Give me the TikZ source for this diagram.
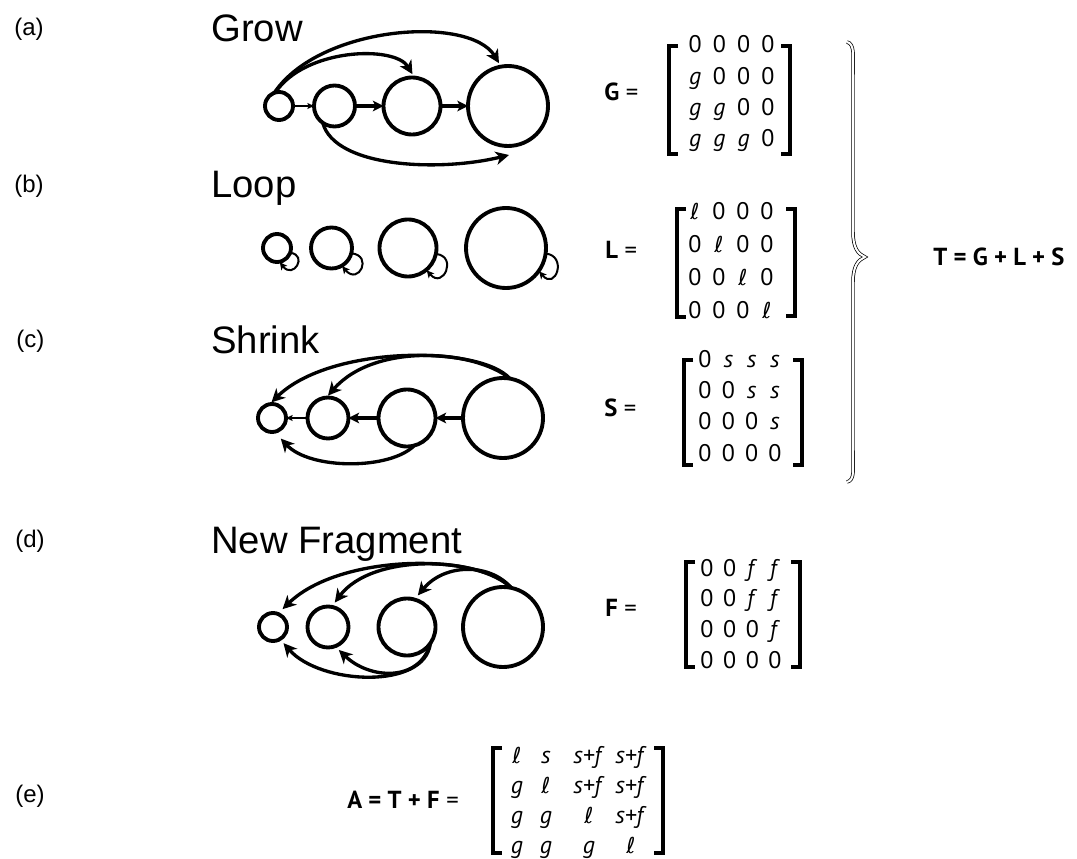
\documentclass[tikz,border=0pt]{standalone}
\usepackage{fontspec}
\setmainfont{Liberation Sans}
\newfontfamily\mtxfont{PT Sans}
\newfontfamily\ellfont{DejaVu Sans}
\usetikzlibrary{arrows.meta,calc,matrix}
\newcommand\Eg{\textit{g}}
\newcommand\Es{\textit{s}}
\newcommand\Ef{\textit{f}}
\newcommand\El{{\ellfont\itshape\fontsize{16.5}{18}\selectfont ℓ}}
\newcommand\Esf{\textit{s+f}}
\begin{document}
\begin{tikzpicture}[x=0.75pt,y=-0.75pt,
  ring/.style={circle,draw,line width=2.9pt,inner sep=0pt,outer sep=0pt},
  rA/.style={ring,minimum size=21pt},
  rB/.style={ring,minimum size=30.75pt},
  rC/.style={ring,minimum size=42.75pt},
  rD/.style={ring,minimum size=60pt},
  link/.style={line width=2.4pt,-{Stealth[length=8pt,width=8pt,inset=2pt]}},
  thinlink/.style={line width=0.8pt,-{Stealth[length=5pt,width=4.5pt,inset=1pt]}},
  arc/.style={line width=2.5pt,-{Stealth[length=10pt,width=10pt,inset=3pt]}},
  selfloop/.style={line width=1.5pt,-{Stealth[length=5.5pt,width=5.5pt,inset=1.4pt]},shorten >=0.5pt},
  tag/.style={font=\fontsize{18}{21}\selectfont,anchor=west,inner sep=0pt},
  title/.style={font=\fontsize{28.7}{33}\selectfont,anchor=base west,inner sep=0pt},
  mlabel/.style={font=\mtxfont\fontsize{18.5}{21}\selectfont,anchor=west,inner sep=0pt},
  mtx/.style={matrix of nodes,inner sep=0pt,column sep=0pt,row sep=0pt,
    nodes={font=\mtxfont\fontsize{18}{21}\selectfont,inner sep=0pt,
      text height=13pt,text depth=4pt,anchor=center}},
  bracket/.style={line width=2.8pt},
  brace/.style={double,double distance=1.5pt,line width=0.55pt},
  ]
\useasboundingbox (0,0) rectangle (1077,859);

% ---------- row labels ----------
\node[tag] (ta) at (14,29) {(a)};
\node[tag] (tb) at (14,186) {(b)};
\node[tag] (tc) at (16,341) {(c)};
\node[tag] (td) at (15,541) {(d)};
\node[tag] (te) at (15,796) {(e)};

% ---------- titles ----------
\node[title] (hGrow) at (211,42) {Grow};
\node[title] (hLoop) at (211,198) {Loop};
\node[title] (hShrink) at (211,353) {Shrink};
\node[title] (hFrag) at (211,553) {New Fragment};

% ---------- (a) grow ----------
\node[rA] (a1) at (279,106) {};
\node[rB] (a2) at (334.5,106) {};
\node[rC] (a3) at (412,106) {};
\node[rD] (a4) at (508,106) {};
\coordinate (a4foot) at (509,155);
\draw[thinlink] (a1) -- (a2);
\draw[link] (a2) -- (a3);
\draw[link] (a3) -- (a4);
\draw[arc,shorten >=3pt] (a1.105) .. controls (305,48) and (395,45) .. (a3.85);
\draw[arc,shorten >=3pt] (a1.110) .. controls (320,25) and (470,15) .. (a4.100);
\draw[arc] (a2.235) .. controls (335,168) and (440,172) .. (a4foot);

% ---------- (b) loop ----------
\node[rA] (b1) at (277,248) {};
\node[rB] (b2) at (331.5,248) {};
\node[rC] (b3) at (408,248) {};
\node[rD] (b4) at (506,248) {};
\draw[selfloop] (b1.-20) .. controls +(18,2) and +(14,18) .. (b1.-80);
\draw[selfloop] (b2.-15) .. controls +(22,2) and +(17,20) .. (b2.-60);
\draw[selfloop] (b3.-12) .. controls +(22,2) and +(17,20) .. (b3.-50);
\draw[selfloop] (b4.-8) .. controls +(22,2) and +(17,20) .. (b4.-35);

% ---------- (c) shrink ----------
\node[rA] (c1) at (272,418) {};
\node[rB] (c2) at (328,418) {};
\node[rC] (c3) at (407,418) {};
\node[rD] (c4) at (503,418) {};
\draw[thinlink] (c2) -- (c1);
\draw[link] (c3) -- (c2);
\draw[link] (c4) -- (c3);
\draw[arc,shorten >=2pt] (c4.80) .. controls (480,345) and (330,345) .. (c1.100);
\draw[arc,shorten >=2pt] (c4.80) .. controls (475,350) and (375,342) .. (c2.95);
\draw[arc,shorten >=7pt] (c3.-75) .. controls (390,470) and (310,470) .. (c1.-80);

% ---------- (d) new fragment ----------
\node[rA] (d1) at (273,627) {};
\node[rB] (d2) at (328,627) {};
\node[rC] (d3) at (407,627) {};
\node[rD] (d4) at (503,627) {};
\draw[arc,shorten >=5pt] (d4.78) .. controls (480,553) and (340,553) .. (d1.70);
\draw[arc,shorten >=4pt] (d4.78) .. controls (478,556) and (372,553) .. (d2.80);
\draw[arc,shorten >=4pt] (d4.78) .. controls (490,563) and (445,563) .. (d3.75);
\draw[arc,shorten >=4pt] (d3.-35) .. controls (425,690) and (320,685) .. (d1.-60);
\draw[arc,shorten >=4pt] (d3.-35) .. controls (420,682) and (370,680) .. (d2.-70);

% ---------- G ----------
\node[mlabel] (lG) at (604,92) {\textbf{G} =};
\matrix (Gm) [mtx,nodes={minimum width=18.2pt,minimum height=23.5pt}] at (731.5,94) {
0 & 0 & 0 & 0 \\
\Eg & 0 & 0 & 0 \\
\Eg & \Eg & 0 & 0 \\
\Eg & \Eg & \Eg & 0 \\
};
\draw[bracket] (678,46) -- (669,46) -- (669,154) -- (678,154);
\draw[bracket] (781,46) -- (790,46) -- (790,154) -- (781,154);

% ---------- L ----------
\node[mlabel] (lL) at (605,250) {\textbf{L} =};
\matrix (Lm) [mtx,nodes={minimum width=18pt,minimum height=24.75pt}] at (731,262.5) {
\El & 0 & 0 & 0 \\
0 & \El & 0 & 0 \\
0 & 0 & \El & 0 \\
0 & 0 & 0 & \El \\
};
\draw[bracket] (686,209) -- (677,209) -- (677,317) -- (686,317);
\draw[bracket] (786,209) -- (795,209) -- (795,316) -- (786,316);

% ---------- S ----------
\node[mlabel] (lS) at (604,408) {\textbf{S} =};
\matrix (Sm) [mtx,nodes={minimum width=17.5pt,minimum height=23.5pt}] at (740,408) {
0 & \Es & \Es & \Es \\
0 & 0 & \Es & \Es \\
0 & 0 & 0 & \Es \\
0 & 0 & 0 & 0 \\
};
\draw[bracket] (693,360) -- (684,360) -- (684,465) -- (693,465);
\draw[bracket] (793,360) -- (802,360) -- (802,465) -- (793,465);

% ---------- F ----------
\node[mlabel] (lF) at (605,608) {\textbf{F} =};
\matrix (Fm) [mtx,nodes={minimum width=17pt,minimum height=23pt}] at (741,616) {
0 & 0 & \Ef & \Ef \\
0 & 0 & \Ef & \Ef \\
0 & 0 & 0 & \Ef \\
0 & 0 & 0 & 0 \\
};
\draw[bracket] (695,562) -- (686,562) -- (686,667) -- (695,667);
\draw[bracket] (791,562) -- (800,562) -- (800,667) -- (791,667);

% ---------- brace and T ----------
\draw[brace] (847,42) .. controls (855,44) and (853,56) .. (853,75) -- (853,232)
  .. controls (853,248) and (858,254) .. (865,257)
  .. controls (858,260) and (853,266) .. (853,282) -- (853,450)
  .. controls (853,470) and (855,480) .. (847,482);
\node[mlabel,font=\mtxfont\bfseries\fontsize{18.5}{21}\selectfont] (lT) at (933,257) {T = G + L + S};

% ---------- A ----------
\node[mlabel,anchor=east] (lA) at (459,800) {\textbf{A = T + F} =};
\matrix (Am) [mtx,nodes={minimum height=22.5pt},
  column 1/.style={nodes={minimum width=16.5pt}},
  column 2/.style={nodes={minimum width=27pt}},
  column 3/.style={nodes={minimum width=37.5pt}},
  column 4/.style={nodes={minimum width=25.5pt}}] at (577,802) {
\El & \Es & \Esf & \Esf \\
\Eg & \El & \Esf & \Esf \\
\Eg & \Eg & \El & \Esf \\
\Eg & \Eg & \Eg & \El \\
};
\draw[bracket] (502,748) -- (493,748) -- (493,853) -- (502,853);
\draw[bracket] (654,748) -- (663,748) -- (663,853) -- (654,853);
\end{tikzpicture}
\end{document}
